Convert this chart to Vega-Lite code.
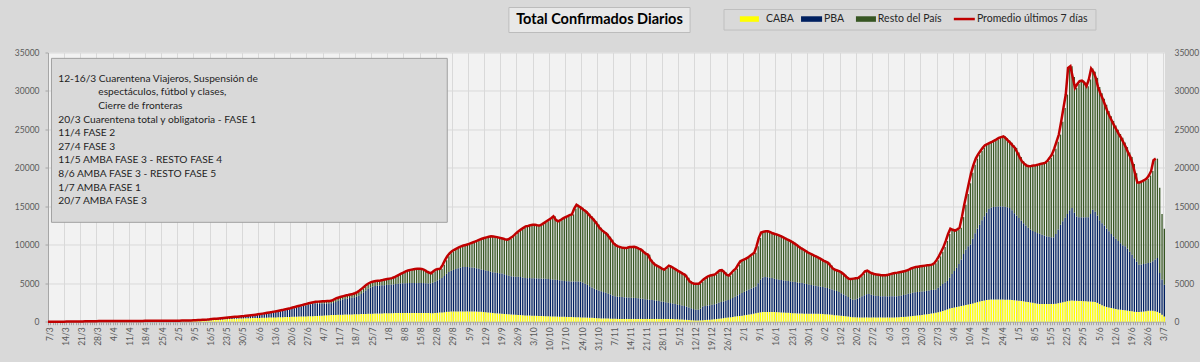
{
"$schema":"https://vega.github.io/schema/vega-lite/v6.json",
"width":1117,"height":269.2,
"autosize":{"type":"none"},
"padding":{"left":48,"top":52.5,"right":35,"bottom":40.3},
"background":"#d9d9d9",
"config":{"view":{"fill":"#f2f2f2","stroke":null},
 "axis":{"labelFont":"Lato","labelColor":"#595959","labelFontSize":8.5,"gridColor":"#d9d9d9","gridWidth":1,"domainColor":"#a6a6a6","tickColor":"#a6a6a6"}},
"data":{"values":[
{"d":"2020-03-07","caba":1,"pba":0,"resto":0},{"d":"2020-03-08","caba":1,"pba":1,"resto":0},{"d":"2020-03-09","caba":1,"pba":1,"resto":0},{"d":"2020-03-10","caba":2,"pba":1,"resto":0},{"d":"2020-03-11","caba":2,"pba":1,"resto":1},{"d":"2020-03-12","caba":3,"pba":1,"resto":1},{"d":"2020-03-13","caba":4,"pba":2,"resto":1},{"d":"2020-03-14","caba":5,"pba":2,"resto":2},{"d":"2020-03-15","caba":6,"pba":3,"resto":2},{"d":"2020-03-16","caba":8,"pba":3,"resto":3},{"d":"2020-03-17","caba":9,"pba":4,"resto":3},{"d":"2020-03-18","caba":10,"pba":5,"resto":4},{"d":"2020-03-19","caba":12,"pba":6,"resto":5},{"d":"2020-03-20","caba":14,"pba":7,"resto":7},{"d":"2020-03-21","caba":16,"pba":9,"resto":9},{"d":"2020-03-22","caba":18,"pba":10,"resto":10},{"d":"2020-03-23","caba":20,"pba":12,"resto":12},{"d":"2020-03-24","caba":22,"pba":14,"resto":14},{"d":"2020-03-25","caba":24,"pba":16,"resto":16},{"d":"2020-03-26","caba":26,"pba":18,"resto":18},{"d":"2020-03-27","caba":28,"pba":20,"resto":20},{"d":"2020-03-28","caba":30,"pba":22,"resto":22},{"d":"2020-03-29","caba":32,"pba":24,"resto":24},{"d":"2020-03-30","caba":33,"pba":26,"resto":24},{"d":"2020-03-31","caba":34,"pba":28,"resto":24},
{"d":"2020-04-01","caba":35,"pba":30,"resto":25},{"d":"2020-04-02","caba":36,"pba":32,"resto":26},{"d":"2020-04-03","caba":38,"pba":34,"resto":28},{"d":"2020-04-04","caba":40,"pba":36,"resto":28},{"d":"2020-04-05","caba":40,"pba":36,"resto":27},{"d":"2020-04-06","caba":40,"pba":36,"resto":26},{"d":"2020-04-07","caba":40,"pba":35,"resto":25},{"d":"2020-04-08","caba":39,"pba":34,"resto":24},{"d":"2020-04-09","caba":38,"pba":34,"resto":22},{"d":"2020-04-10","caba":38,"pba":34,"resto":20},{"d":"2020-04-11","caba":38,"pba":34,"resto":18},{"d":"2020-04-12","caba":38,"pba":35,"resto":17},{"d":"2020-04-13","caba":38,"pba":36,"resto":16},{"d":"2020-04-14","caba":39,"pba":37,"resto":16},{"d":"2020-04-15","caba":40,"pba":38,"resto":17},{"d":"2020-04-16","caba":41,"pba":40,"resto":18},{"d":"2020-04-17","caba":42,"pba":42,"resto":19},{"d":"2020-04-18","caba":44,"pba":44,"resto":20},{"d":"2020-04-19","caba":45,"pba":45,"resto":20},{"d":"2020-04-20","caba":46,"pba":46,"resto":20},{"d":"2020-04-21","caba":47,"pba":47,"resto":19},{"d":"2020-04-22","caba":48,"pba":48,"resto":18},{"d":"2020-04-23","caba":50,"pba":50,"resto":18},{"d":"2020-04-24","caba":52,"pba":52,"resto":18},{"d":"2020-04-25","caba":54,"pba":54,"resto":18},{"d":"2020-04-26","caba":55,"pba":55,"resto":18},{"d":"2020-04-27","caba":56,"pba":56,"resto":17},{"d":"2020-04-28","caba":57,"pba":56,"resto":17},{"d":"2020-04-29","caba":58,"pba":57,"resto":17},{"d":"2020-04-30","caba":59,"pba":58,"resto":17},
{"d":"2020-05-01","caba":60,"pba":58,"resto":17},{"d":"2020-05-02","caba":62,"pba":58,"resto":17},{"d":"2020-05-03","caba":64,"pba":58,"resto":16},{"d":"2020-05-04","caba":66,"pba":58,"resto":16},{"d":"2020-05-05","caba":68,"pba":58,"resto":16},{"d":"2020-05-06","caba":72,"pba":60,"resto":16},{"d":"2020-05-07","caba":78,"pba":62,"resto":16},{"d":"2020-05-08","caba":86,"pba":64,"resto":16},{"d":"2020-05-09","caba":96,"pba":66,"resto":16},{"d":"2020-05-10","caba":106,"pba":70,"resto":16},{"d":"2020-05-11","caba":118,"pba":72,"resto":16},{"d":"2020-05-12","caba":130,"pba":76,"resto":16},{"d":"2020-05-13","caba":142,"pba":80,"resto":16},{"d":"2020-05-14","caba":156,"pba":84,"resto":18},{"d":"2020-05-15","caba":170,"pba":88,"resto":18},{"d":"2020-05-16","caba":190,"pba":98,"resto":18},{"d":"2020-05-17","caba":220,"pba":110,"resto":20},{"d":"2020-05-18","caba":236,"pba":116,"resto":20},{"d":"2020-05-19","caba":252,"pba":124,"resto":22},{"d":"2020-05-20","caba":270,"pba":132,"resto":22},{"d":"2020-05-21","caba":290,"pba":140,"resto":24},{"d":"2020-05-22","caba":310,"pba":150,"resto":26},{"d":"2020-05-23","caba":330,"pba":160,"resto":28},{"d":"2020-05-24","caba":350,"pba":170,"resto":30},{"d":"2020-05-25","caba":366,"pba":180,"resto":30},{"d":"2020-05-26","caba":380,"pba":192,"resto":32},{"d":"2020-05-27","caba":394,"pba":204,"resto":32},{"d":"2020-05-28","caba":408,"pba":216,"resto":34},{"d":"2020-05-29","caba":420,"pba":230,"resto":34},{"d":"2020-05-30","caba":432,"pba":244,"resto":36},{"d":"2020-05-31","caba":444,"pba":258,"resto":38},
{"d":"2020-06-01","caba":450,"pba":290,"resto":40},{"d":"2020-06-02","caba":458,"pba":310,"resto":42},{"d":"2020-06-03","caba":466,"pba":335,"resto":44},{"d":"2020-06-04","caba":474,"pba":360,"resto":46},{"d":"2020-06-05","caba":482,"pba":385,"resto":48},{"d":"2020-06-06","caba":490,"pba":415,"resto":50},{"d":"2020-06-07","caba":500,"pba":448,"resto":52},{"d":"2020-06-08","caba":510,"pba":486,"resto":54},{"d":"2020-06-09","caba":520,"pba":524,"resto":56},{"d":"2020-06-10","caba":530,"pba":562,"resto":58},{"d":"2020-06-11","caba":540,"pba":600,"resto":60},{"d":"2020-06-12","caba":550,"pba":638,"resto":62},{"d":"2020-06-13","caba":560,"pba":686,"resto":64},{"d":"2020-06-14","caba":570,"pba":734,"resto":66},{"d":"2020-06-15","caba":580,"pba":782,"resto":68},{"d":"2020-06-16","caba":590,"pba":830,"resto":70},{"d":"2020-06-17","caba":600,"pba":876,"resto":74},{"d":"2020-06-18","caba":610,"pba":932,"resto":78},{"d":"2020-06-19","caba":620,"pba":988,"resto":82},{"d":"2020-06-20","caba":630,"pba":1044,"resto":86},{"d":"2020-06-21","caba":640,"pba":1110,"resto":90},{"d":"2020-06-22","caba":650,"pba":1176,"resto":94},{"d":"2020-06-23","caba":660,"pba":1240,"resto":100},{"d":"2020-06-24","caba":670,"pba":1304,"resto":106},{"d":"2020-06-25","caba":680,"pba":1368,"resto":112},{"d":"2020-06-26","caba":690,"pba":1432,"resto":118},{"d":"2020-06-27","caba":700,"pba":1496,"resto":124},{"d":"2020-06-28","caba":710,"pba":1560,"resto":130},{"d":"2020-06-29","caba":720,"pba":1614,"resto":136},{"d":"2020-06-30","caba":730,"pba":1658,"resto":142},
{"d":"2020-07-01","caba":740,"pba":1640,"resto":200},{"d":"2020-07-02","caba":760,"pba":1620,"resto":230},{"d":"2020-07-03","caba":780,"pba":1590,"resto":260},{"d":"2020-07-04","caba":800,"pba":1570,"resto":280},{"d":"2020-07-05","caba":820,"pba":1550,"resto":290},{"d":"2020-07-06","caba":840,"pba":1540,"resto":300},{"d":"2020-07-07","caba":860,"pba":1530,"resto":310},{"d":"2020-07-08","caba":870,"pba":1560,"resto":320},{"d":"2020-07-09","caba":880,"pba":1690,"resto":330},{"d":"2020-07-10","caba":890,"pba":1820,"resto":340},{"d":"2020-07-11","caba":900,"pba":1900,"resto":350},{"d":"2020-07-12","caba":910,"pba":1980,"resto":360},{"d":"2020-07-13","caba":920,"pba":2040,"resto":370},{"d":"2020-07-14","caba":930,"pba":2090,"resto":380},{"d":"2020-07-15","caba":940,"pba":2130,"resto":390},{"d":"2020-07-16","caba":950,"pba":2180,"resto":400},{"d":"2020-07-17","caba":960,"pba":2230,"resto":410},{"d":"2020-07-18","caba":970,"pba":2310,"resto":420},{"d":"2020-07-19","caba":980,"pba":2430,"resto":440},{"d":"2020-07-20","caba":990,"pba":2600,"resto":460},{"d":"2020-07-21","caba":1000,"pba":2820,"resto":480},{"d":"2020-07-22","caba":1010,"pba":3040,"resto":500},{"d":"2020-07-23","caba":1020,"pba":3260,"resto":520},{"d":"2020-07-24","caba":1030,"pba":3430,"resto":540},{"d":"2020-07-25","caba":1040,"pba":3550,"resto":560},{"d":"2020-07-26","caba":1050,"pba":3600,"resto":580},{"d":"2020-07-27","caba":1060,"pba":3620,"resto":600},{"d":"2020-07-28","caba":1070,"pba":3640,"resto":620},{"d":"2020-07-29","caba":1080,"pba":3650,"resto":640},{"d":"2020-07-30","caba":1090,"pba":3660,"resto":670},{"d":"2020-07-31","caba":1100,"pba":3680,"resto":700},
{"d":"2020-08-01","caba":1100,"pba":3700,"resto":740},{"d":"2020-08-02","caba":1110,"pba":3720,"resto":770},{"d":"2020-08-03","caba":1110,"pba":3740,"resto":810},{"d":"2020-08-04","caba":1120,"pba":3780,"resto":880},{"d":"2020-08-05","caba":1120,"pba":3820,"resto":990},{"d":"2020-08-06","caba":1130,"pba":3850,"resto":1100},{"d":"2020-08-07","caba":1130,"pba":3870,"resto":1240},{"d":"2020-08-08","caba":1130,"pba":3880,"resto":1380},{"d":"2020-08-09","caba":1130,"pba":3890,"resto":1520},{"d":"2020-08-10","caba":1130,"pba":3890,"resto":1640},{"d":"2020-08-11","caba":1130,"pba":3890,"resto":1720},{"d":"2020-08-12","caba":1130,"pba":3890,"resto":1780},{"d":"2020-08-13","caba":1130,"pba":3890,"resto":1830},{"d":"2020-08-14","caba":1130,"pba":3890,"resto":1850},{"d":"2020-08-15","caba":1130,"pba":3890,"resto":1860},{"d":"2020-08-16","caba":1130,"pba":3890,"resto":1840},{"d":"2020-08-17","caba":1130,"pba":3880,"resto":1740},{"d":"2020-08-18","caba":1120,"pba":3860,"resto":1570},{"d":"2020-08-19","caba":1110,"pba":3880,"resto":1410},{"d":"2020-08-20","caba":1100,"pba":3950,"resto":1250},{"d":"2020-08-21","caba":1120,"pba":4080,"resto":1350},{"d":"2020-08-22","caba":1150,"pba":4220,"resto":1410},{"d":"2020-08-23","caba":1180,"pba":4330,"resto":1340},{"d":"2020-08-24","caba":1210,"pba":4470,"resto":1220},{"d":"2020-08-25","caba":1240,"pba":4700,"resto":1460},{"d":"2020-08-26","caba":1280,"pba":4950,"resto":1770},{"d":"2020-08-27","caba":1300,"pba":5150,"resto":2050},{"d":"2020-08-28","caba":1320,"pba":5300,"resto":2280},{"d":"2020-08-29","caba":1330,"pba":5400,"resto":2420},{"d":"2020-08-30","caba":1340,"pba":5500,"resto":2510},{"d":"2020-08-31","caba":1340,"pba":5600,"resto":2560},
{"d":"2020-09-01","caba":1340,"pba":5700,"resto":2610},{"d":"2020-09-02","caba":1340,"pba":5760,"resto":2700},{"d":"2020-09-03","caba":1340,"pba":5780,"resto":2780},{"d":"2020-09-04","caba":1340,"pba":5770,"resto":2870},{"d":"2020-09-05","caba":1340,"pba":5750,"resto":2970},{"d":"2020-09-06","caba":1330,"pba":5720,"resto":3130},{"d":"2020-09-07","caba":1320,"pba":5680,"resto":3300},{"d":"2020-09-08","caba":1310,"pba":5640,"resto":3470},{"d":"2020-09-09","caba":1300,"pba":5580,"resto":3660},{"d":"2020-09-10","caba":1290,"pba":5500,"resto":3880},{"d":"2020-09-11","caba":1260,"pba":5460,"resto":4060},{"d":"2020-09-12","caba":1230,"pba":5420,"resto":4230},{"d":"2020-09-13","caba":1200,"pba":5380,"resto":4380},{"d":"2020-09-14","caba":1170,"pba":5340,"resto":4530},{"d":"2020-09-15","caba":1140,"pba":5300,"resto":4660},{"d":"2020-09-16","caba":1110,"pba":5280,"resto":4690},{"d":"2020-09-17","caba":1080,"pba":5260,"resto":4690},{"d":"2020-09-18","caba":1050,"pba":5250,"resto":4660},{"d":"2020-09-19","caba":1020,"pba":5260,"resto":4610},{"d":"2020-09-20","caba":1000,"pba":5180,"resto":4640},{"d":"2020-09-21","caba":980,"pba":5080,"resto":4660},{"d":"2020-09-22","caba":960,"pba":5000,"resto":4710},{"d":"2020-09-23","caba":940,"pba":4960,"resto":4900},{"d":"2020-09-24","caba":920,"pba":4960,"resto":5120},{"d":"2020-09-25","caba":900,"pba":4960,"resto":5390},{"d":"2020-09-26","caba":880,"pba":4960,"resto":5700},{"d":"2020-09-27","caba":860,"pba":4950,"resto":5990},{"d":"2020-09-28","caba":840,"pba":4900,"resto":6260},{"d":"2020-09-29","caba":820,"pba":4870,"resto":6510},{"d":"2020-09-30","caba":800,"pba":4860,"resto":6740},
{"d":"2020-10-01","caba":790,"pba":4880,"resto":6780},{"d":"2020-10-02","caba":780,"pba":4880,"resto":6890},{"d":"2020-10-03","caba":770,"pba":4880,"resto":6960},{"d":"2020-10-04","caba":760,"pba":4880,"resto":6960},{"d":"2020-10-05","caba":750,"pba":4880,"resto":6910},{"d":"2020-10-06","caba":740,"pba":4870,"resto":6890},{"d":"2020-10-07","caba":730,"pba":4870,"resto":7050},{"d":"2020-10-08","caba":720,"pba":4860,"resto":7270},{"d":"2020-10-09","caba":710,"pba":4850,"resto":7490},{"d":"2020-10-10","caba":690,"pba":4840,"resto":7720},{"d":"2020-10-11","caba":680,"pba":4820,"resto":7950},{"d":"2020-10-12","caba":670,"pba":4800,"resto":8230},{"d":"2020-10-13","caba":660,"pba":4770,"resto":7820},{"d":"2020-10-14","caba":650,"pba":4740,"resto":7660},{"d":"2020-10-15","caba":640,"pba":4710,"resto":7850},{"d":"2020-10-16","caba":630,"pba":4670,"resto":8100},{"d":"2020-10-17","caba":620,"pba":4650,"resto":8280},{"d":"2020-10-18","caba":610,"pba":4640,"resto":8450},{"d":"2020-10-19","caba":600,"pba":4640,"resto":8610},{"d":"2020-10-20","caba":590,"pba":4650,"resto":8710},{"d":"2020-10-21","caba":580,"pba":4660,"resto":9460},{"d":"2020-10-22","caba":570,"pba":4660,"resto":9970},{"d":"2020-10-23","caba":560,"pba":4640,"resto":9800},{"d":"2020-10-24","caba":550,"pba":4550,"resto":9700},{"d":"2020-10-25","caba":540,"pba":4410,"resto":9600},{"d":"2020-10-26","caba":530,"pba":4270,"resto":9550},{"d":"2020-10-27","caba":520,"pba":4100,"resto":9430},{"d":"2020-10-28","caba":500,"pba":3950,"resto":9250},{"d":"2020-10-29","caba":480,"pba":3820,"resto":9100},{"d":"2020-10-30","caba":460,"pba":3690,"resto":8900},{"d":"2020-10-31","caba":440,"pba":3610,"resto":8600},
{"d":"2020-11-01","caba":430,"pba":3520,"resto":8250},{"d":"2020-11-02","caba":420,"pba":3430,"resto":8050},{"d":"2020-11-03","caba":410,"pba":3340,"resto":7900},{"d":"2020-11-04","caba":400,"pba":3250,"resto":7800},{"d":"2020-11-05","caba":390,"pba":3160,"resto":7500},{"d":"2020-11-06","caba":380,"pba":3040,"resto":7230},{"d":"2020-11-07","caba":370,"pba":2930,"resto":6900},{"d":"2020-11-08","caba":360,"pba":2900,"resto":6690},{"d":"2020-11-09","caba":360,"pba":2870,"resto":6570},{"d":"2020-11-10","caba":360,"pba":2840,"resto":6500},{"d":"2020-11-11","caba":360,"pba":2820,"resto":6420},{"d":"2020-11-12","caba":360,"pba":2800,"resto":6420},{"d":"2020-11-13","caba":360,"pba":2780,"resto":6480},{"d":"2020-11-14","caba":360,"pba":2760,"resto":6580},{"d":"2020-11-15","caba":360,"pba":2740,"resto":6620},{"d":"2020-11-16","caba":360,"pba":2720,"resto":6670},{"d":"2020-11-17","caba":360,"pba":2690,"resto":6600},{"d":"2020-11-18","caba":360,"pba":2650,"resto":6490},{"d":"2020-11-19","caba":360,"pba":2610,"resto":6400},{"d":"2020-11-20","caba":360,"pba":2570,"resto":6170},{"d":"2020-11-21","caba":360,"pba":2540,"resto":5950},{"d":"2020-11-22","caba":360,"pba":2500,"resto":5840},{"d":"2020-11-23","caba":360,"pba":2460,"resto":5250},{"d":"2020-11-24","caba":360,"pba":2420,"resto":4920},{"d":"2020-11-25","caba":360,"pba":2380,"resto":4680},{"d":"2020-11-26","caba":360,"pba":2330,"resto":4560},{"d":"2020-11-27","caba":360,"pba":2280,"resto":4470},{"d":"2020-11-28","caba":360,"pba":2230,"resto":4310},{"d":"2020-11-29","caba":350,"pba":2190,"resto":4230},{"d":"2020-11-30","caba":350,"pba":2130,"resto":4520},
{"d":"2020-12-01","caba":350,"pba":2070,"resto":4870},{"d":"2020-12-02","caba":340,"pba":2020,"resto":4790},{"d":"2020-12-03","caba":330,"pba":1970,"resto":4680},{"d":"2020-12-04","caba":320,"pba":1910,"resto":4570},{"d":"2020-12-05","caba":300,"pba":1860,"resto":4440},{"d":"2020-12-06","caba":280,"pba":1820,"resto":4350},{"d":"2020-12-07","caba":260,"pba":1780,"resto":4210},{"d":"2020-12-08","caba":240,"pba":1720,"resto":4140},{"d":"2020-12-09","caba":220,"pba":1630,"resto":3850},{"d":"2020-12-10","caba":200,"pba":1540,"resto":3510},{"d":"2020-12-11","caba":180,"pba":1460,"resto":3410},{"d":"2020-12-12","caba":170,"pba":1390,"resto":3380},{"d":"2020-12-13","caba":170,"pba":1390,"resto":3360},{"d":"2020-12-14","caba":180,"pba":1520,"resto":3240},{"d":"2020-12-15","caba":200,"pba":1790,"resto":3210},{"d":"2020-12-16","caba":220,"pba":1830,"resto":3450},{"d":"2020-12-17","caba":240,"pba":1860,"resto":3600},{"d":"2020-12-18","caba":260,"pba":1890,"resto":3750},{"d":"2020-12-19","caba":280,"pba":1920,"resto":3800},{"d":"2020-12-20","caba":310,"pba":1970,"resto":3800},{"d":"2020-12-21","caba":340,"pba":2020,"resto":3790},{"d":"2020-12-22","caba":380,"pba":2070,"resto":3950},{"d":"2020-12-23","caba":420,"pba":2130,"resto":4100},{"d":"2020-12-24","caba":460,"pba":2180,"resto":4060},{"d":"2020-12-25","caba":500,"pba":2230,"resto":3720},{"d":"2020-12-26","caba":540,"pba":2290,"resto":3270},{"d":"2020-12-27","caba":570,"pba":2370,"resto":3060},{"d":"2020-12-28","caba":610,"pba":2470,"resto":3220},{"d":"2020-12-29","caba":660,"pba":2590,"resto":3400},{"d":"2020-12-30","caba":710,"pba":2710,"resto":3480},{"d":"2020-12-31","caba":750,"pba":2830,"resto":3820},
{"d":"2021-01-01","caba":780,"pba":2950,"resto":4120},{"d":"2021-01-02","caba":830,"pba":3050,"resto":4120},{"d":"2021-01-03","caba":880,"pba":3150,"resto":4120},{"d":"2021-01-04","caba":930,"pba":3250,"resto":4100},{"d":"2021-01-05","caba":980,"pba":3340,"resto":4180},{"d":"2021-01-06","caba":1040,"pba":3420,"resto":4290},{"d":"2021-01-07","caba":1100,"pba":3490,"resto":4360},{"d":"2021-01-08","caba":1160,"pba":3840,"resto":4800},{"d":"2021-01-09","caba":1220,"pba":4280,"resto":5400},{"d":"2021-01-10","caba":1250,"pba":4500,"resto":5850},{"d":"2021-01-11","caba":1260,"pba":4550,"resto":5890},{"d":"2021-01-12","caba":1260,"pba":4520,"resto":5970},{"d":"2021-01-13","caba":1260,"pba":4470,"resto":6020},{"d":"2021-01-14","caba":1260,"pba":4410,"resto":5980},{"d":"2021-01-15","caba":1250,"pba":4350,"resto":5900},{"d":"2021-01-16","caba":1240,"pba":4290,"resto":5870},{"d":"2021-01-17","caba":1230,"pba":4230,"resto":5860},{"d":"2021-01-18","caba":1210,"pba":4210,"resto":5780},{"d":"2021-01-19","caba":1190,"pba":4190,"resto":5670},{"d":"2021-01-20","caba":1170,"pba":4170,"resto":5560},{"d":"2021-01-21","caba":1150,"pba":4150,"resto":5450},{"d":"2021-01-22","caba":1130,"pba":4120,"resto":5350},{"d":"2021-01-23","caba":1110,"pba":4090,"resto":5250},{"d":"2021-01-24","caba":1090,"pba":4060,"resto":5100},{"d":"2021-01-25","caba":1070,"pba":4040,"resto":4940},{"d":"2021-01-26","caba":1060,"pba":4010,"resto":4780},{"d":"2021-01-27","caba":1050,"pba":3970,"resto":4580},{"d":"2021-01-28","caba":1040,"pba":3920,"resto":4490},{"d":"2021-01-29","caba":1040,"pba":3860,"resto":4350},{"d":"2021-01-30","caba":1040,"pba":3800,"resto":4210},{"d":"2021-01-31","caba":1040,"pba":3740,"resto":4120},
{"d":"2021-02-01","caba":1040,"pba":3690,"resto":4020},{"d":"2021-02-02","caba":1040,"pba":3640,"resto":3910},{"d":"2021-02-03","caba":1030,"pba":3590,"resto":3830},{"d":"2021-02-04","caba":1020,"pba":3540,"resto":3740},{"d":"2021-02-05","caba":1000,"pba":3500,"resto":3650},{"d":"2021-02-06","caba":980,"pba":3460,"resto":3510},{"d":"2021-02-07","caba":960,"pba":3420,"resto":3420},{"d":"2021-02-08","caba":930,"pba":3370,"resto":3350},{"d":"2021-02-09","caba":890,"pba":3310,"resto":3100},{"d":"2021-02-10","caba":850,"pba":3250,"resto":2850},{"d":"2021-02-11","caba":830,"pba":3170,"resto":2750},{"d":"2021-02-12","caba":800,"pba":3050,"resto":2800},{"d":"2021-02-13","caba":770,"pba":2930,"resto":2850},{"d":"2021-02-14","caba":740,"pba":2810,"resto":2800},{"d":"2021-02-15","caba":700,"pba":2700,"resto":2700},{"d":"2021-02-16","caba":660,"pba":2540,"resto":2600},{"d":"2021-02-17","caba":620,"pba":2380,"resto":2590},{"d":"2021-02-18","caba":590,"pba":2270,"resto":2700},{"d":"2021-02-19","caba":570,"pba":2330,"resto":2700},{"d":"2021-02-20","caba":560,"pba":2440,"resto":2640},{"d":"2021-02-21","caba":560,"pba":2590,"resto":2530},{"d":"2021-02-22","caba":560,"pba":2740,"resto":2600},{"d":"2021-02-23","caba":560,"pba":2890,"resto":2750},{"d":"2021-02-24","caba":560,"pba":3020,"resto":2970},{"d":"2021-02-25","caba":560,"pba":3040,"resto":3030},{"d":"2021-02-26","caba":560,"pba":2960,"resto":2930},{"d":"2021-02-27","caba":560,"pba":2880,"resto":2860},{"d":"2021-02-28","caba":560,"pba":2820,"resto":2820},
{"d":"2021-03-01","caba":560,"pba":2780,"resto":2810},{"d":"2021-03-02","caba":560,"pba":2750,"resto":2790},{"d":"2021-03-03","caba":560,"pba":2740,"resto":2750},{"d":"2021-03-04","caba":560,"pba":2740,"resto":2730},{"d":"2021-03-05","caba":560,"pba":2740,"resto":2750},{"d":"2021-03-06","caba":560,"pba":2740,"resto":2800},{"d":"2021-03-07","caba":560,"pba":2740,"resto":2880},{"d":"2021-03-08","caba":560,"pba":2740,"resto":2960},{"d":"2021-03-09","caba":570,"pba":2740,"resto":3020},{"d":"2021-03-10","caba":580,"pba":2760,"resto":3040},{"d":"2021-03-11","caba":600,"pba":2800,"resto":3040},{"d":"2021-03-12","caba":620,"pba":2850,"resto":3030},{"d":"2021-03-13","caba":650,"pba":2900,"resto":3000},{"d":"2021-03-14","caba":680,"pba":2940,"resto":3030},{"d":"2021-03-15","caba":710,"pba":2980,"resto":3090},{"d":"2021-03-16","caba":740,"pba":3020,"resto":3160},{"d":"2021-03-17","caba":780,"pba":3040,"resto":3210},{"d":"2021-03-18","caba":810,"pba":3050,"resto":3240},{"d":"2021-03-19","caba":840,"pba":3040,"resto":3270},{"d":"2021-03-20","caba":880,"pba":3040,"resto":3280},{"d":"2021-03-21","caba":920,"pba":3040,"resto":3290},{"d":"2021-03-22","caba":960,"pba":3050,"resto":3280},{"d":"2021-03-23","caba":1000,"pba":3060,"resto":3270},{"d":"2021-03-24","caba":1050,"pba":3060,"resto":3260},{"d":"2021-03-25","caba":1100,"pba":3050,"resto":3270},{"d":"2021-03-26","caba":1150,"pba":3050,"resto":3400},{"d":"2021-03-27","caba":1220,"pba":3180,"resto":3600},{"d":"2021-03-28","caba":1300,"pba":3350,"resto":3850},{"d":"2021-03-29","caba":1400,"pba":3500,"resto":4200},{"d":"2021-03-30","caba":1500,"pba":3600,"resto":4600},{"d":"2021-03-31","caba":1600,"pba":3700,"resto":5200},
{"d":"2021-04-01","caba":1700,"pba":4000,"resto":5700},{"d":"2021-04-02","caba":1780,"pba":4420,"resto":5900},{"d":"2021-04-03","caba":1840,"pba":4760,"resto":5350},{"d":"2021-04-04","caba":1900,"pba":5100,"resto":4850},{"d":"2021-04-05","caba":1960,"pba":5540,"resto":4500},{"d":"2021-04-06","caba":2030,"pba":6070,"resto":4100},{"d":"2021-04-07","caba":2100,"pba":6700,"resto":4800},{"d":"2021-04-08","caba":2170,"pba":7230,"resto":5800},{"d":"2021-04-09","caba":2230,"pba":7570,"resto":6800},{"d":"2021-04-10","caba":2300,"pba":7750,"resto":7950},{"d":"2021-04-11","caba":2380,"pba":8420,"resto":8550},{"d":"2021-04-12","caba":2460,"pba":9040,"resto":8900},{"d":"2021-04-13","caba":2540,"pba":9560,"resto":9100},{"d":"2021-04-14","caba":2620,"pba":10000,"resto":9130},{"d":"2021-04-15","caba":2700,"pba":10500,"resto":9000},{"d":"2021-04-16","caba":2760,"pba":10940,"resto":8900},{"d":"2021-04-17","caba":2820,"pba":11380,"resto":8740},{"d":"2021-04-18","caba":2860,"pba":11840,"resto":8400},{"d":"2021-04-19","caba":2880,"pba":11970,"resto":8400},{"d":"2021-04-20","caba":2880,"pba":12040,"resto":8460},{"d":"2021-04-21","caba":2880,"pba":12080,"resto":8590},{"d":"2021-04-22","caba":2880,"pba":12110,"resto":8710},{"d":"2021-04-23","caba":2880,"pba":12120,"resto":8900},{"d":"2021-04-24","caba":2880,"pba":12100,"resto":9020},{"d":"2021-04-25","caba":2870,"pba":12080,"resto":9150},{"d":"2021-04-26","caba":2860,"pba":12020,"resto":8970},{"d":"2021-04-27","caba":2850,"pba":11940,"resto":8760},{"d":"2021-04-28","caba":2830,"pba":11670,"resto":8750},{"d":"2021-04-29","caba":2800,"pba":11300,"resto":8800},{"d":"2021-04-30","caba":2760,"pba":11040,"resto":8790},
{"d":"2021-05-01","caba":2720,"pba":10770,"resto":8510},{"d":"2021-05-02","caba":2690,"pba":10460,"resto":8250},{"d":"2021-05-03","caba":2650,"pba":10150,"resto":8060},{"d":"2021-05-04","caba":2600,"pba":9900,"resto":8050},{"d":"2021-05-05","caba":2550,"pba":9650,"resto":8100},{"d":"2021-05-06","caba":2500,"pba":9470,"resto":8240},{"d":"2021-05-07","caba":2450,"pba":9350,"resto":8450},{"d":"2021-05-08","caba":2400,"pba":9250,"resto":8650},{"d":"2021-05-09","caba":2340,"pba":9180,"resto":8820},{"d":"2021-05-10","caba":2310,"pba":9110,"resto":9000},{"d":"2021-05-11","caba":2300,"pba":9020,"resto":9180},{"d":"2021-05-12","caba":2300,"pba":8900,"resto":9380},{"d":"2021-05-13","caba":2300,"pba":8800,"resto":9540},{"d":"2021-05-14","caba":2300,"pba":8730,"resto":9870},{"d":"2021-05-15","caba":2300,"pba":8680,"resto":10320},{"d":"2021-05-16","caba":2310,"pba":8660,"resto":10760},{"d":"2021-05-17","caba":2350,"pba":9050,"resto":11100},{"d":"2021-05-18","caba":2400,"pba":9600,"resto":11400},{"d":"2021-05-19","caba":2460,"pba":10140,"resto":11730},{"d":"2021-05-20","caba":2530,"pba":10520,"resto":12950},{"d":"2021-05-21","caba":2600,"pba":10900,"resto":14300},{"d":"2021-05-22","caba":2670,"pba":11330,"resto":15530},{"d":"2021-05-23","caba":2730,"pba":11770,"resto":18500},{"d":"2021-05-24","caba":2750,"pba":12040,"resto":18430},{"d":"2021-05-25","caba":2740,"pba":11460,"resto":17600},{"d":"2021-05-26","caba":2720,"pba":10980,"resto":16700},{"d":"2021-05-27","caba":2700,"pba":10870,"resto":17330},{"d":"2021-05-28","caba":2690,"pba":10880,"resto":17700},{"d":"2021-05-29","caba":2670,"pba":10900,"resto":17780},{"d":"2021-05-30","caba":2650,"pba":10920,"resto":17530},{"d":"2021-05-31","caba":2640,"pba":10930,"resto":17050},
{"d":"2021-06-01","caba":2620,"pba":11380,"resto":17500},{"d":"2021-06-02","caba":2600,"pba":11970,"resto":18350},{"d":"2021-06-03","caba":2550,"pba":11750,"resto":18200},{"d":"2021-06-04","caba":2450,"pba":11350,"resto":17900},{"d":"2021-06-05","caba":2300,"pba":10900,"resto":17300},{"d":"2021-06-06","caba":2150,"pba":10650,"resto":16900},{"d":"2021-06-07","caba":2000,"pba":10500,"resto":16500},{"d":"2021-06-08","caba":1920,"pba":10180,"resto":16100},{"d":"2021-06-09","caba":1850,"pba":9900,"resto":15650},{"d":"2021-06-10","caba":1780,"pba":9620,"resto":15300},{"d":"2021-06-11","caba":1720,"pba":9380,"resto":15000},{"d":"2021-06-12","caba":1660,"pba":9140,"resto":14700},{"d":"2021-06-13","caba":1600,"pba":8900,"resto":14450},{"d":"2021-06-14","caba":1560,"pba":8640,"resto":14200},{"d":"2021-06-15","caba":1520,"pba":8430,"resto":13950},{"d":"2021-06-16","caba":1480,"pba":8320,"resto":13500},{"d":"2021-06-17","caba":1440,"pba":8060,"resto":13200},{"d":"2021-06-18","caba":1400,"pba":7700,"resto":12900},{"d":"2021-06-19","caba":1350,"pba":7350,"resto":12700},{"d":"2021-06-20","caba":1300,"pba":6950,"resto":12250},{"d":"2021-06-21","caba":1270,"pba":6530,"resto":11500},{"d":"2021-06-22","caba":1260,"pba":6160,"resto":10680},{"d":"2021-06-23","caba":1280,"pba":6170,"resto":10650},{"d":"2021-06-24","caba":1320,"pba":6180,"resto":10750},{"d":"2021-06-25","caba":1370,"pba":6200,"resto":10830},{"d":"2021-06-26","caba":1410,"pba":6220,"resto":10970},{"d":"2021-06-27","caba":1430,"pba":6270,"resto":11300},{"d":"2021-06-28","caba":1430,"pba":6420,"resto":11750},{"d":"2021-06-29","caba":1350,"pba":6750,"resto":12900},{"d":"2021-06-30","caba":1280,"pba":7000,"resto":12920},
{"d":"2021-07-01","caba":1130,"pba":5200,"resto":11070},{"d":"2021-07-02","caba":900,"pba":4600,"resto":8500},{"d":"2021-07-03","caba":690,"pba":4120,"resto":7290}
]},
"resolve":{"axis":{"x":"independent","y":"independent"}},
"layer":[
{"transform":[{"fold":["caba","pba","resto"],"as":["serie","value"]}],
 "mark":{"type":"bar","timeUnitBandSize":0.94},
 "encoding":{
  "x":{"field":"d","type":"temporal","timeUnit":"utcyearmonthdate","title":null,
   "scale":{"type":"utc","domain":[{"year":2020,"month":3,"date":7,"utc":true},{"year":2021,"month":7,"date":4,"utc":true}],"nice":false},
   "axis":{"orient":"bottom","grid":true,"ticks":true,"tickSize":3,"domain":true,"labelAngle":270,"labelPadding":2,"labelOffset":1,
    "labelExpr":"utcFormat(datum.value,'%-d/%-m')",
    "values":[{"year":2020,"month":3,"date":7,"utc":true},{"year":2020,"month":3,"date":14,"utc":true},{"year":2020,"month":3,"date":21,"utc":true},{"year":2020,"month":3,"date":28,"utc":true},{"year":2020,"month":4,"date":4,"utc":true},{"year":2020,"month":4,"date":11,"utc":true},{"year":2020,"month":4,"date":18,"utc":true},{"year":2020,"month":4,"date":25,"utc":true},{"year":2020,"month":5,"date":2,"utc":true},{"year":2020,"month":5,"date":9,"utc":true},{"year":2020,"month":5,"date":16,"utc":true},{"year":2020,"month":5,"date":23,"utc":true},{"year":2020,"month":5,"date":30,"utc":true},{"year":2020,"month":6,"date":6,"utc":true},{"year":2020,"month":6,"date":13,"utc":true},{"year":2020,"month":6,"date":20,"utc":true},{"year":2020,"month":6,"date":27,"utc":true},{"year":2020,"month":7,"date":4,"utc":true},{"year":2020,"month":7,"date":11,"utc":true},{"year":2020,"month":7,"date":18,"utc":true},{"year":2020,"month":7,"date":25,"utc":true},{"year":2020,"month":8,"date":1,"utc":true},{"year":2020,"month":8,"date":8,"utc":true},{"year":2020,"month":8,"date":15,"utc":true},{"year":2020,"month":8,"date":22,"utc":true},{"year":2020,"month":8,"date":29,"utc":true},{"year":2020,"month":9,"date":5,"utc":true},{"year":2020,"month":9,"date":12,"utc":true},{"year":2020,"month":9,"date":19,"utc":true},{"year":2020,"month":9,"date":26,"utc":true},{"year":2020,"month":10,"date":3,"utc":true},{"year":2020,"month":10,"date":10,"utc":true},{"year":2020,"month":10,"date":17,"utc":true},{"year":2020,"month":10,"date":24,"utc":true},{"year":2020,"month":10,"date":31,"utc":true},{"year":2020,"month":11,"date":7,"utc":true},{"year":2020,"month":11,"date":14,"utc":true},{"year":2020,"month":11,"date":21,"utc":true},{"year":2020,"month":11,"date":28,"utc":true},{"year":2020,"month":12,"date":5,"utc":true},{"year":2020,"month":12,"date":12,"utc":true},{"year":2020,"month":12,"date":19,"utc":true},{"year":2020,"month":12,"date":26,"utc":true},{"year":2021,"month":1,"date":2,"utc":true},{"year":2021,"month":1,"date":9,"utc":true},{"year":2021,"month":1,"date":16,"utc":true},{"year":2021,"month":1,"date":23,"utc":true},{"year":2021,"month":1,"date":30,"utc":true},{"year":2021,"month":2,"date":6,"utc":true},{"year":2021,"month":2,"date":13,"utc":true},{"year":2021,"month":2,"date":20,"utc":true},{"year":2021,"month":2,"date":27,"utc":true},{"year":2021,"month":3,"date":6,"utc":true},{"year":2021,"month":3,"date":13,"utc":true},{"year":2021,"month":3,"date":20,"utc":true},{"year":2021,"month":3,"date":27,"utc":true},{"year":2021,"month":4,"date":3,"utc":true},{"year":2021,"month":4,"date":10,"utc":true},{"year":2021,"month":4,"date":17,"utc":true},{"year":2021,"month":4,"date":24,"utc":true},{"year":2021,"month":5,"date":1,"utc":true},{"year":2021,"month":5,"date":8,"utc":true},{"year":2021,"month":5,"date":15,"utc":true},{"year":2021,"month":5,"date":22,"utc":true},{"year":2021,"month":5,"date":29,"utc":true},{"year":2021,"month":6,"date":5,"utc":true},{"year":2021,"month":6,"date":12,"utc":true},{"year":2021,"month":6,"date":19,"utc":true},{"year":2021,"month":6,"date":26,"utc":true},{"year":2021,"month":7,"date":3,"utc":true}]}},
  "y":{"field":"value","type":"quantitative","stack":"zero","title":null,
   "scale":{"domain":[0,35000],"nice":false},
   "axis":{"orient":"left","values":[0,5000,10000,15000,20000,25000,30000,35000],"format":"d","grid":true,"ticks":true,"tickSize":3,"domain":true,"labelPadding":6}},
  "color":{"field":"serie","type":"nominal","legend":null,"scale":{"domain":["caba","pba","resto"],"range":["#ffff00","#002060","#375623"]}},
  "order":{"field":"serie","sort":"ascending"}
 }},
{"transform":[{"filter":"toDate(datum.d) <= utc(2021,5,30)"},{"fold":["caba","pba","resto"],"as":["serie","value"]}],
 "mark":{"type":"line","color":"#c00000","strokeWidth":2.5,"timeUnitBandPosition":0.5},
 "encoding":{
  "x":{"field":"d","type":"temporal","timeUnit":"utcyearmonthdate","title":null,
   "axis":{"orient":"bottom","tickCount":{"interval":"day","step":1},"labels":false,"grid":false,"domain":false,"ticks":true,"tickSize":3}},
  "y":{"aggregate":"sum","field":"value","type":"quantitative","title":null,
   "axis":{"orient":"right","values":[0,5000,10000,15000,20000,25000,30000,35000],"format":"d","grid":false,"ticks":false,"domain":false,"labelPadding":9}}
 }},
{"data":{"values":[{}]},
 "mark":{"type":"rect","fill":"#d9d9d9","stroke":"#a0a0a0","strokeWidth":1},
 "encoding":{
  "x":{"datum":{"year":2020,"month":3,"date":8,"hours":12,"utc":true},"type":"temporal","axis":null},
  "x2":{"datum":{"year":2020,"month":8,"date":27,"utc":true}},
  "y":{"datum":34240,"type":"quantitative","axis":null},
  "y2":{"datum":12920}}},
{"data":{"values":[{}]},
 "mark":{"type":"text","align":"left","baseline":"alphabetic","font":"Lato","fontSize":10.2,"color":"#1f1f1f"},
 "encoding":{
  "x":{"datum":{"year":2020,"month":3,"date":11,"hours":11,"utc":true},"type":"temporal","axis":null},
  "y":{"datum":31190,"type":"quantitative","axis":null},
  "text":{"value":"12-16/3  Cuarentena Viajeros, Suspensión de"}}},
{"data":{"values":[{}]},
 "mark":{"type":"text","align":"left","baseline":"alphabetic","font":"Lato","fontSize":10.2,"color":"#1f1f1f","lineHeight":13.6},
 "encoding":{
  "x":{"datum":{"year":2020,"month":3,"date":28,"hours":19,"utc":true},"type":"temporal","axis":null},
  "y":{"datum":29420,"type":"quantitative","axis":null},
  "text":{"value":["espectáculos, fútbol y clases,","Cierre de fronteras"]}}},
{"data":{"values":[{}]},
 "mark":{"type":"text","align":"left","baseline":"alphabetic","font":"Lato","fontSize":10.2,"color":"#1f1f1f","lineHeight":13.6},
 "encoding":{
  "x":{"datum":{"year":2020,"month":3,"date":11,"hours":11,"utc":true},"type":"temporal","axis":null},
  "y":{"datum":25880,"type":"quantitative","axis":null},
  "text":{"value":["20/3 Cuarentena total y obligatoria - FASE 1","11/4 FASE 2","27/4 FASE 3","11/5 AMBA FASE 3 - RESTO FASE 4","8/6 AMBA FASE 3 - RESTO FASE 5","1/7 AMBA FASE 1","20/7 AMBA FASE 3"]}}},
{"data":{"values":[{}]},
 "mark":{"type":"rect","fill":"#e8e8e8","stroke":"#bcbcbc","strokeWidth":1},
 "encoding":{
  "x":{"datum":{"year":2020,"month":9,"date":22,"hours":17,"utc":true},"type":"temporal","axis":null},
  "x2":{"datum":{"year":2020,"month":12,"date":10,"hours":5,"utc":true}},
  "y":{"datum":40850,"type":"quantitative","axis":null},
  "y2":{"datum":37600}}},
{"data":{"values":[{}]},
 "mark":{"type":"text","align":"center","baseline":"middle","font":"Lato","fontSize":14.5,"fontWeight":"bold","color":"#000000"},
 "encoding":{
  "x":{"datum":{"year":2020,"month":10,"date":31,"hours":23,"utc":true},"type":"temporal","axis":null},
  "y":{"datum":39220,"type":"quantitative","axis":null},
  "text":{"value":"Total  Confirmados  Diarios"}}},
{"data":{"values":[{}]},
 "mark":{"type":"rect","fill":"#d9d9d9","stroke":"#bfbfbf","strokeWidth":1},
 "encoding":{
  "x":{"datum":{"year":2020,"month":12,"date":24,"hours":22,"utc":true},"type":"temporal","axis":null},
  "x2":{"datum":{"year":2021,"month":6,"date":4,"hours":2,"utc":true}},
  "y":{"datum":40590,"type":"quantitative","axis":null},
  "y2":{"datum":37920}}},
{"data":{"values":[{}]},
 "mark":{"type":"rect","fill":"#ffff00"},
 "encoding":{
  "x":{"datum":{"year":2020,"month":12,"date":31,"hours":19,"utc":true},"type":"temporal","axis":null},
  "x2":{"datum":{"year":2021,"month":1,"date":9,"hours":1,"utc":true}},
  "y":{"datum":39710,"type":"quantitative","axis":null},
  "y2":{"datum":38990}}},
{"data":{"values":[{}]},
 "mark":{"type":"rect","fill":"#002060"},
 "encoding":{
  "x":{"datum":{"year":2021,"month":1,"date":27,"hours":7,"utc":true},"type":"temporal","axis":null},
  "x2":{"datum":{"year":2021,"month":2,"date":5,"hours":10,"utc":true}},
  "y":{"datum":39710,"type":"quantitative","axis":null},
  "y2":{"datum":38990}}},
{"data":{"values":[{}]},
 "mark":{"type":"rect","fill":"#375623"},
 "encoding":{
  "x":{"datum":{"year":2021,"month":2,"date":20,"hours":2,"utc":true},"type":"temporal","axis":null},
  "x2":{"datum":{"year":2021,"month":2,"date":28,"hours":18,"utc":true}},
  "y":{"datum":39710,"type":"quantitative","axis":null},
  "y2":{"datum":38990}}},
{"data":{"values":[{}]},
 "mark":{"type":"rule","color":"#c00000","strokeWidth":2.5},
 "encoding":{
  "x":{"datum":{"year":2021,"month":4,"date":3,"hours":12,"utc":true},"type":"temporal","axis":null},
  "x2":{"datum":{"year":2021,"month":4,"date":12,"hours":14,"utc":true}},
  "y":{"datum":39350,"type":"quantitative","axis":null}}},
{"data":{"values":[{}]},
 "mark":{"type":"text","align":"left","baseline":"middle","font":"Lato","fontSize":10.5,"color":"#262626"},
 "encoding":{
  "x":{"datum":{"year":2021,"month":1,"date":12,"hours":2,"utc":true},"type":"temporal","axis":null},
  "y":{"datum":39300,"type":"quantitative","axis":null},
  "text":{"value":"CABA"}}},
{"data":{"values":[{}]},
 "mark":{"type":"text","align":"left","baseline":"middle","font":"Lato","fontSize":10.5,"color":"#262626"},
 "encoding":{
  "x":{"datum":{"year":2021,"month":2,"date":6,"hours":5,"utc":true},"type":"temporal","axis":null},
  "y":{"datum":39300,"type":"quantitative","axis":null},
  "text":{"value":"PBA"}}},
{"data":{"values":[{}]},
 "mark":{"type":"text","align":"left","baseline":"middle","font":"Lato","fontSize":10.5,"color":"#262626"},
 "encoding":{
  "x":{"datum":{"year":2021,"month":3,"date":1,"hours":14,"utc":true},"type":"temporal","axis":null},
  "y":{"datum":39300,"type":"quantitative","axis":null},
  "text":{"value":"Resto del País"}}},
{"data":{"values":[{}]},
 "mark":{"type":"text","align":"left","baseline":"middle","font":"Lato","fontSize":10.5,"color":"#262626"},
 "encoding":{
  "x":{"datum":{"year":2021,"month":4,"date":13,"hours":12,"utc":true},"type":"temporal","axis":null},
  "y":{"datum":39300,"type":"quantitative","axis":null},
  "text":{"value":"Promedio últimos 7 días"}}}
]
}
